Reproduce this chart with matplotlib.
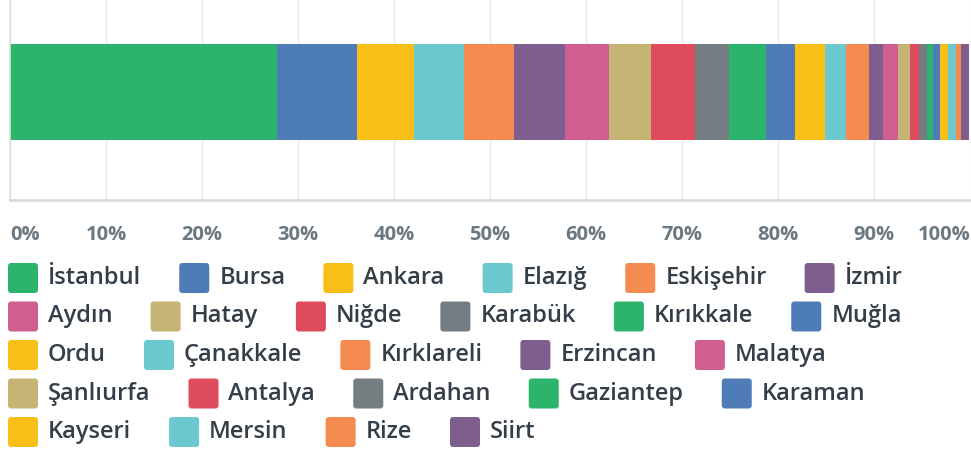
import matplotlib
matplotlib.use("Agg")
import matplotlib.pyplot as plt
from matplotlib.patches import FancyBboxPatch

# ---- data ----
cities = ["İstanbul", "Bursa", "Ankara", "Elazığ", "Eskişehir", "İzmir",
          "Aydın", "Hatay", "Niğde", "Karabük", "Kırıkkale", "Muğla",
          "Ordu", "Çanakkale", "Kırklareli", "Erzincan", "Malatya",
          "Şanlıurfa", "Antalya", "Ardahan", "Gaziantep", "Karaman",
          "Kayseri", "Mersin", "Rize", "Siirt"]
shares = [27.8, 8.3, 6.0, 5.2, 5.2, 5.3,
          4.6, 4.4, 4.6, 3.5, 3.9, 3.0,
          3.1, 2.2, 2.4, 1.4, 1.6,
          1.3, 0.9, 0.8, 0.6, 0.8,
          0.8, 0.8, 0.55, 0.8]
tick_values = [0, 10, 20, 30, 40, 50, 60, 70, 80, 90, 100]
tick_labels = ["0%", "10%", "20%", "30%", "40%", "50%", "60%", "70%", "80%", "90%", "100%"]

palette = ["#2DB46C", "#4E7CB6", "#F8BF17", "#6AC8CE", "#F68B52",
           "#7D5E8F", "#D05E90", "#C6B475", "#DD4B5C", "#737D82"]
colors = [palette[i % len(palette)] for i in range(len(cities))]

FONT = ["Open Sans", "DejaVu Sans"]
W, H = 971, 451
fig = plt.figure(figsize=(W / 100, H / 100), dpi=100)

# ---- bar axes ----
ax_left, ax_right, ax_top, ax_bottom = 10, 970, 0, 200
ax = fig.add_axes([ax_left / W, 1 - ax_bottom / H, (ax_right - ax_left) / W, (ax_bottom - ax_top) / H])
left = 0
for c, v, col in zip(cities, shares, colors):
    ax.barh(0, v, left=left, height=0.48, color=col, linewidth=0)
    left += v
ax.set_xlim(0, 100)
ax.set_ylim(-0.54, 0.46)
ax.set_yticks([])
ax.set_xticks(tick_values)
labels = ax.set_xticklabels(tick_labels, fontfamily=FONT, fontweight="bold",
                            fontsize=14.5, color="#6B7880")
labels[0].set_horizontalalignment("left")
labels[-1].set_horizontalalignment("right")
ax.tick_params(axis="x", length=0, pad=18)
ax.grid(axis="x", color="#EBEBEB", linewidth=1)
ax.set_axisbelow(True)
for s in ["top", "right"]:
    ax.spines[s].set_visible(False)
ax.spines["left"].set_color("#E0E0E0")
ax.spines["left"].set_linewidth(1.2)
ax.spines["bottom"].set_color("#D5D5D5")
ax.spines["bottom"].set_linewidth(1.8)

# ---- legend (flow layout in pixel coords) ----
lax = fig.add_axes([0, 0, 1, 1])
lax.set_xlim(0, W)
lax.set_ylim(H, 0)
lax.axis("off")
fig.canvas.draw()
renderer = fig.canvas.get_renderer()

row_y0, row_step = 278, 38.5
patch_size, text_gap, item_gap, x0 = 30, 10, 38, 8
x, row = x0, 0
for c, col in zip(cities, colors):
    t = lax.text(0, 0, c, fontfamily=FONT, fontweight="semibold", fontsize=17,
                 color="#333E48", va="center", ha="left")
    tw = t.get_window_extent(renderer).width
    item_w = patch_size + text_gap + tw
    if x + item_w > W and x > x0:
        row += 1
        x = x0
    y = row_y0 + row * row_step
    lax.add_patch(FancyBboxPatch((x + 2, y - patch_size / 2 + 2), patch_size - 4, patch_size - 4,
                                 boxstyle="round,pad=2,rounding_size=3",
                                 facecolor=col, edgecolor="none"))
    t.set_position((x + patch_size + text_gap, y))
    x += item_w + item_gap

fig.savefig("out.png", dpi=100)
